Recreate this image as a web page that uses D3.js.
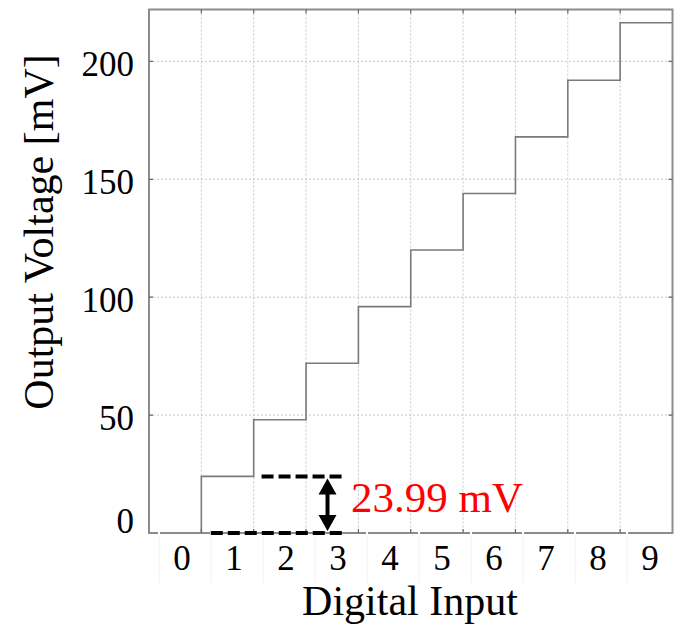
<!DOCTYPE html>
<html>
<head>
<meta charset="utf-8">
<script src="https://cdn.jsdelivr.net/npm/d3@7"></script>
<style>
  html, body { margin: 0; padding: 0; background: #fff; }
  svg { display: block; font-family: "Liberation Serif", "Times New Roman", serif; }
</style>
</head>
<body>
<div id="chart"></div>
<script>
// digital input codes and the DAC output level for each code (mV)
const inputCodes = [0, 1, 2, 3, 4, 5, 6, 7, 8, 9];
const outputVoltage = [0, 24, 48, 72, 96, 120, 144, 168, 192, 216.4];
const yTicks = [0, 50, 100, 150, 200];
const stepSize = 23.99;
const stepLabel = "23.99 mV";

const width = 674;
const height = 629;
const plot = { left: 149, top: 9.5, right: 672.5, bottom: 533 };

const svg = d3.select("#chart")
  .append("svg")
  .attr("width", width)
  .attr("height", height);

const x = d3.scaleLinear().domain([0, 10]).range([plot.left, plot.right]);
const y = d3.scaleLinear().domain([0, 222]).range([plot.bottom, plot.top]);

// label row under the axis is its own set of boxes
const xBand = d3.scaleBand().domain(inputCodes).range([159, 679]);

const gridColor = "#c8c8c8";
const axisColor = "#8c8c8c";

// grid
svg.append("g")
  .selectAll("line")
  .data(d3.range(1, 10))
  .enter()
  .append("line")
  .attr("x1", (d) => x(d))
  .attr("x2", (d) => x(d))
  .attr("y1", plot.top)
  .attr("y2", plot.bottom)
  .attr("stroke", gridColor)
  .attr("stroke-width", 1)
  .attr("stroke-dasharray", "2,2");

svg.append("g")
  .selectAll("line")
  .data(yTicks.filter((d) => d > 0))
  .enter()
  .append("line")
  .attr("x1", plot.left)
  .attr("x2", plot.right)
  .attr("y1", (d) => y(d))
  .attr("y2", (d) => y(d))
  .attr("stroke", gridColor)
  .attr("stroke-width", 1)
  .attr("stroke-dasharray", "2,2");

// faint separators of the label row
svg.append("g")
  .selectAll("line")
  .data(inputCodes)
  .enter()
  .append("line")
  .attr("x1", (d) => xBand(d))
  .attr("x2", (d) => xBand(d))
  .attr("y1", plot.bottom + 3)
  .attr("y2", 583)
  .attr("stroke", "#f0f0f0")
  .attr("stroke-width", 1);

// staircase
const stepPoints = inputCodes.map((d, i) => [d, outputVoltage[i]]);
stepPoints.push([10, outputVoltage[outputVoltage.length - 1]]);

const stepLine = d3.line()
  .x((d) => x(d[0]))
  .y((d) => y(d[1]))
  .curve(d3.curveStepAfter);

svg.append("path")
  .datum(stepPoints)
  .attr("d", stepLine)
  .attr("fill", "none")
  .attr("stroke", "#7a7a7a")
  .attr("stroke-width", 1.6);

// frame
svg.append("rect")
  .attr("x", plot.left)
  .attr("y", plot.top)
  .attr("width", plot.right - plot.left)
  .attr("height", plot.bottom - plot.top)
  .attr("fill", "none")
  .attr("stroke", axisColor)
  .attr("stroke-width", 2);

// small gaps in the bottom axis where the label boxes meet it
svg.append("g")
  .selectAll("line")
  .data(inputCodes)
  .enter()
  .append("line")
  .attr("x1", (d) => xBand(d))
  .attr("x2", (d) => xBand(d))
  .attr("y1", plot.bottom - 1)
  .attr("y2", plot.bottom + 2)
  .attr("stroke", "#fff")
  .attr("stroke-width", 2);

// inward ticks
const tickLen = 4;
const xt = d3.range(1, 10);
svg.append("g")
  .selectAll("path")
  .data(xt)
  .enter()
  .append("path")
  .attr("d", (d) =>
    `M${x(d)},${plot.bottom} v${-tickLen} M${x(d)},${plot.top} v${tickLen}`)
  .attr("stroke", "#666")
  .attr("stroke-width", 1.2);

svg.append("g")
  .selectAll("path")
  .data(yTicks.filter((d) => d > 0))
  .enter()
  .append("path")
  .attr("d", (d) =>
    `M${plot.left},${y(d)} h${tickLen} M${plot.right},${y(d)} h${-tickLen}`)
  .attr("stroke", "#666")
  .attr("stroke-width", 1.2);

// y tick labels
svg.append("g")
  .selectAll("text")
  .data(yTicks)
  .enter()
  .append("text")
  .attr("x", 134)
  .attr("y", (d) => (d === 0 ? y(d) : y(d) + 15))
  .attr("text-anchor", "end")
  .attr("font-size", 35)
  .attr("fill", "#000")
  .text((d) => d);

// x tick labels
svg.append("g")
  .selectAll("text")
  .data(inputCodes)
  .enter()
  .append("text")
  .attr("x", (d) => xBand(d) + xBand.bandwidth() / 2 - 3)
  .attr("y", 570)
  .attr("text-anchor", "middle")
  .attr("font-size", 35)
  .attr("fill", "#000")
  .text((d) => d);

// axis titles
svg.append("text")
  .attr("x", 410)
  .attr("y", 615)
  .attr("text-anchor", "middle")
  .attr("font-size", 42)
  .attr("fill", "#000")
  .text("Digital Input");

svg.append("text")
  .attr("transform", "translate(53,232) rotate(-90)")
  .attr("text-anchor", "middle")
  .attr("font-size", 42)
  .attr("fill", "#000")
  .text("Output Voltage [mV]");

// step size annotation
const ann = svg.append("g");
const dash = "12,5";

ann.append("line")
  .attr("x1", x(2.15))
  .attr("x2", x(3.76))
  .attr("y1", y(stepSize))
  .attr("y2", y(stepSize))
  .attr("stroke", "#000")
  .attr("stroke-width", 4)
  .attr("stroke-dasharray", dash);

ann.append("line")
  .attr("x1", x(1.18))
  .attr("x2", x(3.76))
  .attr("y1", y(0))
  .attr("y2", y(0))
  .attr("stroke", "#000")
  .attr("stroke-width", 4)
  .attr("stroke-dasharray", dash);

const ax = x(3.41);
const yTop = y(stepSize) + 2;
const yBot = y(0) - 2;
const headW = 9;
const headH = 16;

ann.append("line")
  .attr("x1", ax)
  .attr("x2", ax)
  .attr("y1", yTop + headH - 2)
  .attr("y2", yBot - headH + 2)
  .attr("stroke", "#000")
  .attr("stroke-width", 4);

ann.append("path")
  .attr("d",
    `M${ax},${yTop} L${ax - headW},${yTop + headH} L${ax + headW},${yTop + headH} Z` +
    `M${ax},${yBot} L${ax - headW},${yBot - headH} L${ax + headW},${yBot - headH} Z`)
  .attr("fill", "#000");

ann.append("text")
  .attr("x", 351)
  .attr("y", 512)
  .attr("font-size", 43)
  .attr("fill", "#ff0000")
  .text(stepLabel);
</script>
</body>
</html>
